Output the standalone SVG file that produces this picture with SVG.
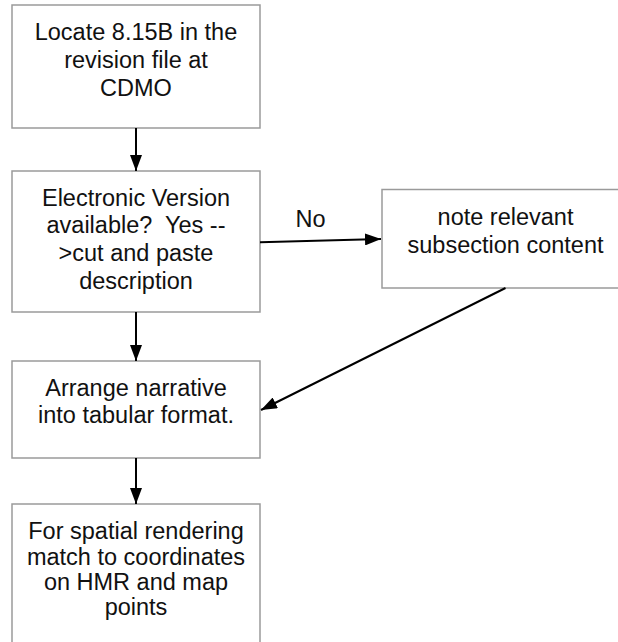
<svg xmlns="http://www.w3.org/2000/svg" width="618" height="642" viewBox="0 0 618 642">
<style>
.box{fill:#fff;stroke:#9a9a9a;stroke-width:1.5}
.t{font-family:"Liberation Sans",Arial,sans-serif;font-size:23.5px;fill:#111;text-anchor:middle}
.c{stroke:#000;stroke-width:2;fill:none;marker-end:url(#ah)}
</style>
<defs>
<marker id="ah" markerUnits="userSpaceOnUse" markerWidth="16" markerHeight="12" refX="16" refY="6" orient="auto">
<path d="M0,0 L16,6 L0,12 z" fill="#000"/>
</marker>
</defs>
<rect width="618" height="642" fill="#fff"/>
<g id="n1">
<rect class="box" x="12" y="5" width="248" height="123"/>
<text class="t" x="136" y="40">Locate 8.15B in the</text>
<text class="t" x="136" y="67.7">revision file at</text>
<text class="t" x="136" y="95.5">CDMO</text>
</g>
<g id="n2">
<rect class="box" x="12" y="171" width="248" height="141"/>
<text class="t" x="136" y="205.7">Electronic Version</text>
<text class="t" x="136" y="233.4" xml:space="preserve">available?  Yes --</text>
<text class="t" x="136" y="261.4">&gt;cut and paste</text>
<text class="t" x="136" y="289.2">description</text>
</g>
<g id="n3">
<rect class="box" x="382" y="189.5" width="247" height="98.5"/>
<text class="t" x="505.5" y="225">note relevant</text>
<text class="t" x="505.5" y="252.7">subsection content</text>
</g>
<g id="n4">
<rect class="box" x="12" y="361" width="248" height="97"/>
<text class="t" x="136" y="396">Arrange narrative</text>
<text class="t" x="136" y="423.3">into tabular format.</text>
</g>
<g id="n5">
<rect class="box" x="12" y="504" width="248" height="150"/>
<text class="t" x="136" y="539.3">For spatial rendering</text>
<text class="t" x="136" y="564.5">match to coordinates</text>
<text class="t" x="136" y="589.7">on HMR and map</text>
<text class="t" x="136" y="615">points</text>
</g>
<g id="connectors">
<line class="c" x1="136" y1="128" x2="136" y2="171"/>
<line class="c" x1="260" y1="242.3" x2="381" y2="239"/>
<text class="t" x="310.5" y="227.3">No</text>
<line class="c" x1="505.5" y1="288" x2="261" y2="410"/>
<line class="c" x1="136" y1="312" x2="136" y2="361"/>
<line class="c" x1="136" y1="458" x2="136" y2="504"/>
</g>
</svg>
